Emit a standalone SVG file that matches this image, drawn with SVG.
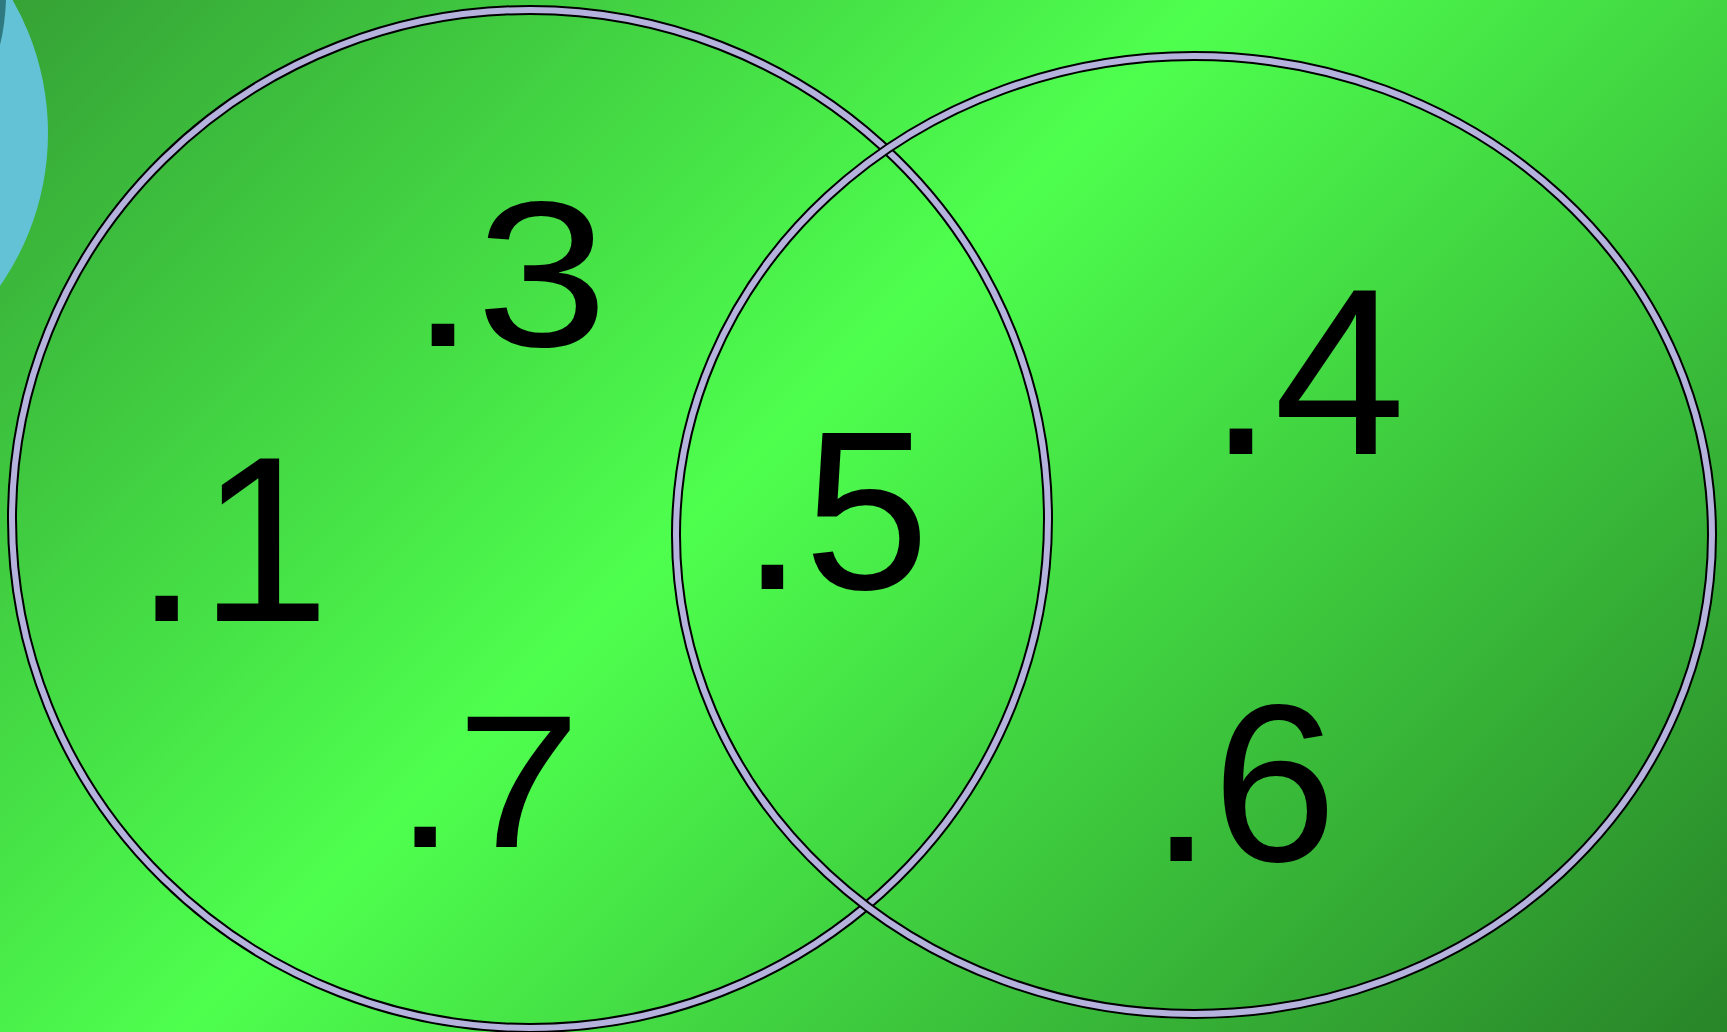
<svg xmlns="http://www.w3.org/2000/svg" width="1727" height="1032" viewBox="0 0 1727 1032">
  <defs>
    <linearGradient id="bg" gradientUnits="userSpaceOnUse" x1="0" y1="0" x2="1380" y2="1380">
      <stop offset="0" stop-color="#35a135"/>
      <stop offset="0.44" stop-color="#4eff4e"/>
      <stop offset="1" stop-color="#288428"/>
    </linearGradient>
  </defs>
  <style>
    .ring-o { fill: none; stroke: #000; stroke-width: 10; }
    .ring-i { fill: none; stroke: #b5b2de; stroke-width: 6; }
    .lbl { font-family: "Liberation Sans", Arial, sans-serif; fill: #000; }
  </style>
  <rect x="0" y="0" width="1727" height="1032" fill="url(#bg)"/>
  <g id="deco">
    <ellipse cx="-212" cy="133" rx="260" ry="264" fill="#63c2d6"/>
    <path d="M0,0 L6,0 Q5,25 0,45 Z" fill="#2f7a80"/>
  </g>
  <g id="set-left">
    <ellipse class="ring-o" cx="530" cy="519" rx="518" ry="509"/>
    <ellipse class="ring-i" cx="530" cy="519" rx="518" ry="509"/>
  </g>
  <g id="set-right">
    <ellipse class="ring-o" cx="1194" cy="535" rx="518" ry="479"/>
    <ellipse class="ring-i" cx="1194" cy="535" rx="518" ry="479"/>
  </g>
  <g id="label-3"><text class="lbl" x="410" y="346" font-size="207" textLength="198" lengthAdjust="spacingAndGlyphs">.3</text></g>
  <g id="label-1"><text class="lbl" x="134" y="621" font-size="235">.1</text></g>
  <g id="label-7"><text class="lbl" x="394" y="847" font-size="189" textLength="187" lengthAdjust="spacingAndGlyphs">.7</text></g>
  <g id="label-5"><text class="lbl" x="741" y="589" font-size="226">.5</text></g>
  <g id="label-4"><text class="lbl" x="1208" y="454" font-size="237">.4</text></g>
  <g id="label-6"><text class="lbl" x="1150" y="861" font-size="224">.6</text></g>
</svg>
